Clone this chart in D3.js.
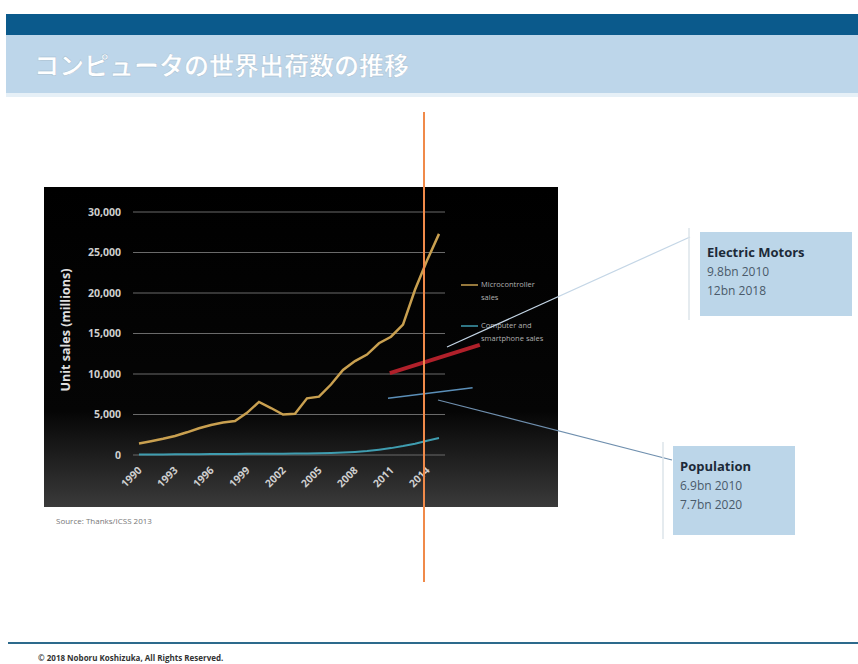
<!DOCTYPE html>
<html><head><meta charset="utf-8">
<script src="https://cdn.jsdelivr.net/npm/d3@7"></script>
<style>html,body{margin:0;padding:0;background:#fff;}svg{display:block;}</style>
</head><body>
<script>
const years = d3.range(1990, 2016);
const microSales = [1430,1700,2000,2350,2800,3300,3700,4000,4200,5200,6550,5800,5000,5100,7000,7200,8700,10500,11600,12400,13800,14600,16100,20400,24000,27300];
const computerSales = [50,60,70,80,90,100,110,120,130,140,150,150,160,170,190,220,260,310,380,480,650,850,1100,1400,1750,2100];
const tickYears = [1990,1993,1996,1999,2002,2005,2008,2011,2014];
const yTicks = [0,5000,10000,15000,20000,25000,30000];
const motorsLine = [[2010.9,10100],[2018.4,13600]];
const populationLine = [[2010.75,7000],[2017.8,8300]];
const nowYear = 2013.75;
const title = "コンピュータの世界出荷数の推移";
const legendItems = [["Microcontroller","sales"],["Computer and","smartphone sales"]];
const motorsText = ["Electric Motors","9.8bn 2010","12bn 2018"];
const popText = ["Population","6.9bn 2010","7.7bn 2020"];

const W=858,H=664;
const svg=d3.select("body").append("svg").attr("width",W).attr("height",H);
const defs=svg.append("defs");
const g1=defs.append("linearGradient").attr("id","panel").attr("x1",0).attr("y1",0).attr("x2",0).attr("y2",1);
g1.append("stop").attr("offset","0%").attr("stop-color","#000");
g1.append("stop").attr("offset","70%").attr("stop-color","#050505");
g1.append("stop").attr("offset","100%").attr("stop-color","#3a3a3a");

// header
svg.append("rect").attr("x",6).attr("y",14).attr("width",W-6).attr("height",21).attr("fill","#0b5a8c");
svg.append("rect").attr("x",6).attr("y",35).attr("width",W-6).attr("height",58).attr("fill","#bdd6ea");
svg.append("rect").attr("x",6).attr("y",93).attr("width",W-6).attr("height",4).attr("fill","#e6f0f7");
svg.append("text").attr("x",34).attr("y",75).text(title)
  .attr("font-family","Noto Sans CJK JP").attr("font-size",25).attr("font-weight","bold")
  .attr("fill","#ffffff").attr("stroke","#9db8cc").attr("stroke-width",0.4);

// panel
svg.append("rect").attr("x",44).attr("y",187).attr("width",514).attr("height",320).attr("fill","url(#panel)");

const x=d3.scaleLinear().domain([1990,2015]).range([139,439]);
const y=d3.scaleLinear().domain([0,30000]).range([455,212]);

// gridlines
svg.append("g").selectAll("line").data(yTicks).join("line")
  .attr("x1",133).attr("x2",445).attr("y1",d=>y(d)).attr("y2",d=>y(d))
  .attr("stroke","#6a6a6a").attr("stroke-width",1.2);
// y axis
const yAxis=d3.axisLeft(y).tickValues(yTicks).tickSize(0).tickPadding(0).tickFormat(d3.format(","));
const ya=svg.append("g").attr("transform","translate(121,0)").call(yAxis);
ya.select(".domain").remove();
ya.selectAll("text").attr("fill","#cfcfcf").attr("font-family","Open Sans").attr("font-size",10.5).attr("font-weight","bold");
svg.append("text").attr("transform","translate(70,330) rotate(-90)").attr("text-anchor","middle")
  .text("Unit sales (millions)").attr("fill","#e0e0e0").attr("font-family","Open Sans").attr("font-size",12.5).attr("font-weight","bold");
// x axis
const xAxis=d3.axisBottom(x).tickValues(tickYears).tickSize(0).tickFormat(d3.format("d"));
const xa=svg.append("g").attr("transform","translate(0,466)").call(xAxis);
xa.select(".domain").remove();
xa.selectAll("text").attr("fill","#cfcfcf").attr("font-family","Open Sans").attr("font-size",10.5).attr("font-weight","bold")
  .attr("text-anchor","end").attr("dy",0).attr("y",0).attr("x",0)
  .attr("transform","translate(3,5) rotate(-45)");

// lines
const line=d3.line().x((d,i)=>x(years[i])).y(d=>y(d));
svg.append("path").datum(computerSales).attr("d",line).attr("fill","none").attr("stroke","#3f9db0").attr("stroke-width",2);
svg.append("path").datum(microSales).attr("d",line).attr("fill","none").attr("stroke","#c9a050").attr("stroke-width",2.5);

// legend
const lg=svg.append("g").attr("font-family","Open Sans").attr("font-size",7.5).attr("fill","#b0b0b0");
[[285,"#c9a050"],[326,"#3f9db0"]].forEach(([ly,c],i)=>{
  lg.append("line").attr("x1",461).attr("x2",478).attr("y1",ly).attr("y2",ly).attr("stroke",c).attr("stroke-width",1.5);
  lg.append("text").attr("x",481).attr("y",ly+2).text(legendItems[i][0]);
  lg.append("text").attr("x",481).attr("y",ly+15).text(legendItems[i][1]);
});

// annotation trend lines
const pl=d3.line().x(d=>x(d[0])).y(d=>y(d[1]));
svg.append("path").datum(motorsLine).attr("d",pl).attr("stroke","#b0202a").attr("stroke-width",4).attr("fill","none");
svg.append("path").datum(populationLine).attr("d",pl).attr("stroke","#5b8fb8").attr("stroke-width",1.5).attr("fill","none");

// connectors
svg.append("line").attr("x1",447).attr("y1",347).attr("x2",690).attr("y2",237).attr("stroke","#c4d6e6").attr("stroke-width",1.2);
svg.append("line").attr("x1",438).attr("y1",400).attr("x2",672).attr("y2",460).attr("stroke","#6f8fae").attr("stroke-width",1.2);

// now line
svg.append("line").attr("x1",x(nowYear)).attr("x2",x(nowYear)).attr("y1",112).attr("y2",582).attr("stroke","#f08a4a").attr("stroke-width",2);

// boxes
function box(bx,by,bw,bh,lines,vx){
  svg.append("line").attr("x1",vx).attr("x2",vx).attr("y1",by-4).attr("y2",by+bh+4).attr("stroke","#dde4ea").attr("stroke-width",1.5);
  svg.append("rect").attr("x",bx).attr("y",by).attr("width",bw).attr("height",bh).attr("fill","#bcd6e9");
  lines.forEach((t,i)=>svg.append("text").attr("x",bx+7).attr("y",by+25+i*19).text(t)
    .attr("font-family","Open Sans").attr("font-size",i?12:13).attr("font-weight",i?"normal":"bold")
    .attr("fill",i?"#4a5a6a":"#1c2a38"));
}
box(700,232,152,84,motorsText,689);
box(673,446,122,89,popText,663);

// source
svg.append("text").attr("x",56).attr("y",524).text("Source: Thanks/ICSS 2013")
  .attr("font-family","Open Sans").attr("font-size",8).attr("fill","#777");

// footer
svg.append("line").attr("x1",8).attr("x2",W).attr("y1",643).attr("y2",643).attr("stroke","#2d6a8c").attr("stroke-width",2);
svg.append("text").attr("x",38).attr("y",661).text("© 2018 Noboru Koshizuka, All Rights Reserved.")
  .attr("font-family","Open Sans").attr("font-size",8).attr("font-weight","bold").attr("fill","#333");
</script>
</body></html>
